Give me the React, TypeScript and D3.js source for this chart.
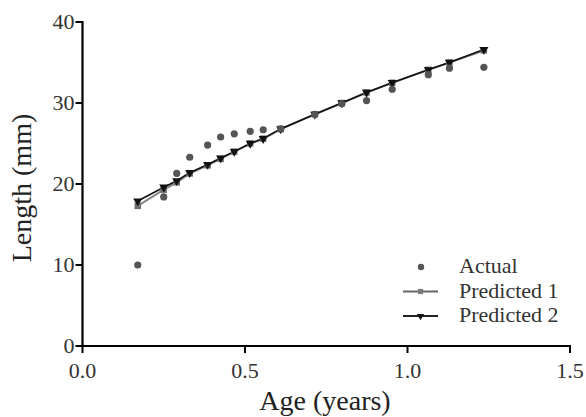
import React from "react";
import * as d3 from "d3";

const ages = [0.17, 0.25, 0.29, 0.33, 0.385, 0.425, 0.467, 0.516, 0.556, 0.61, 0.715, 0.798, 0.874, 0.953, 1.064, 1.129, 1.235];
const actual = [10.0, 18.4, 21.3, 23.3, 24.8, 25.8, 26.2, 26.5, 26.7, 26.8, 28.6, 29.9, 30.3, 31.7, 33.5, 34.3, 34.4];
const predicted1 = [17.3, 19.3, 20.2, 21.3, 22.3, 23.1, 24.0, 25.0, 25.6, 26.8, 28.6, 30.0, 31.3, 32.5, 34.1, 35.0, 36.5];
const predicted2 = [17.9, 19.6, 20.4, 21.4, 22.4, 23.2, 24.0, 25.0, 25.6, 26.8, 28.6, 30.0, 31.3, 32.5, 34.1, 35.0, 36.6];
const xTicks = [0, 0.5, 1.0, 1.5];
const yTicks = [0, 10, 20, 30, 40];
const legendLabels = ["Actual", "Predicted 1", "Predicted 2"];

const W = 586, H = 417;
const M = { left: 82.5, right: 16, top: 22, bottom: 71 };
const FONT = "'Liberation Serif', 'Times New Roman', serif";

export default function App() {
  const x = d3.scaleLinear().domain([0, 1.5]).range([M.left, W - M.right]);
  const y = d3.scaleLinear().domain([0, 40]).range([H - M.bottom, M.top]);
  const line = d3.line<number>().x((_, i) => x(ages[i])).y((d) => y(d));
  const tri = d3.symbol().type(d3.symbolTriangle).size(36)();
  const sq = d3.symbol().type(d3.symbolSquare).size(42)();
  const x0 = M.left, yb = H - M.bottom;

  return (
    <svg width={W} height={H} style={{ position: "absolute", left: 0, top: 0, background: "#fff" }} fontFamily={FONT}>
      {/* lines */}
      <path d={line(predicted1) || ""} fill="none" stroke="#8a8a8a" strokeWidth={2.2} />
      <path d={line(predicted2) || ""} fill="none" stroke="#111" strokeWidth={1.6} />
      {/* markers */}
      {predicted1.map((v, i) => (
        <path key={"s" + i} d={sq} transform={`translate(${x(ages[i])},${y(v)})`} fill="#6e6e6e" />
      ))}
      {predicted2.map((v, i) => (
        <path key={"t" + i} d={tri} transform={`translate(${x(ages[i])},${y(v)}) rotate(180)`} fill="#111" />
      ))}
      {actual.map((v, i) => (
        <circle key={"c" + i} cx={x(ages[i])} cy={y(v)} r={3.6} fill="#555" />
      ))}
      {/* axes */}
      <line x1={x0} x2={x0} y1={y(40) - 1} y2={yb + 1} stroke="#000" strokeWidth={2.2} />
      <line x1={x0 - 1} x2={x(1.5) + 1} y1={yb} y2={yb} stroke="#000" strokeWidth={2.2} />
      {yTicks.map((t) => (
        <g key={"yt" + t}>
          <line x1={x0 - 7} x2={x0} y1={y(t)} y2={y(t)} stroke="#000" strokeWidth={2} />
          <text x={x0 - 8} y={y(t) + 7} textAnchor="end" fontSize={22} fill="#333">{t}</text>
        </g>
      ))}
      {xTicks.map((t) => (
        <g key={"xt" + t}>
          <line x1={x(t)} x2={x(t)} y1={yb} y2={yb + 7} stroke="#000" strokeWidth={2} />
          <text x={x(t)} y={378} textAnchor="middle" fontSize={22} fill="#333">{t.toFixed(1)}</text>
        </g>
      ))}
      <text x={325} y={410} textAnchor="middle" fontSize={28} fill="#222">Age (years)</text>
      <text transform={`translate(31,${188}) rotate(-90)`} textAnchor="middle" fontSize={28} fill="#222">Length (mm)</text>
      {/* legend */}
      <g>
        <circle cx={421} cy={267} r={3.2} fill="#555" />
        <text x={459} y={273} fontSize={22} fill="#333">{legendLabels[0]}</text>
        <line x1={403} x2={438} y1={291.5} y2={291.5} stroke="#666" strokeWidth={1.8} />
        <path d={sq} transform="translate(420.5,291.5) scale(0.8)" fill="#7a7a7a" />
        <text x={459} y={297.5} fontSize={22} fill="#333">{legendLabels[1]}</text>
        <line x1={403} x2={438} y1={316} y2={316} stroke="#222" strokeWidth={1.8} />
        <path d={tri} transform="translate(420.5,316) rotate(180) scale(0.8)" fill="#111" />
        <text x={459} y={322} fontSize={22} fill="#333">{legendLabels[2]}</text>
      </g>
    </svg>
  );
}
